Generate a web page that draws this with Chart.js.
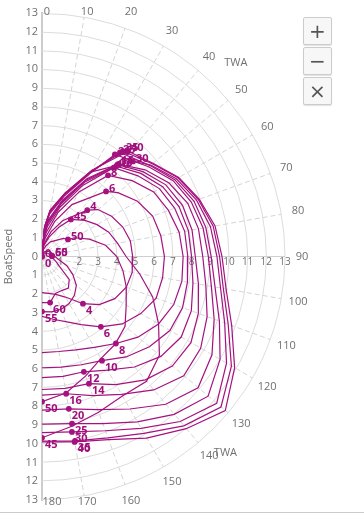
<!DOCTYPE html>
<html>
<head>
<meta charset="utf-8">
<script src="https://cdn.jsdelivr.net/npm/chart.js@4.4.1/dist/chart.umd.min.js"></script>
<style>
  html, body { margin: 0; padding: 0; background: #fff; }
  #wrap { position: relative; width: 364px; height: 512px; border-bottom: 1px solid #ccc; }
  #polar { display: block; }
  .zoomBtns { position: absolute; left: 303px; top: 17px; }
  .zoomBtns button {
    display: block; width: 29px; height: 28px; margin: 0 0 2px 0; padding: 0;
    border: 1px solid #ccc; border-radius: 2px; background: #f7f7f7; color: #555;
    font: 20px "DejaVu Sans", sans-serif; line-height: 24px;
    box-shadow: 0 1px 1px rgba(0,0,0,0.12);
  }
</style>
</head>
<body>
<div id="wrap">
  <canvas id="polar" width="364" height="512"></canvas>
  <div class="zoomBtns"><button>+</button><button>−</button><button>×</button></div>
</div>
<script>
// angles (TWA) where the polar has readings
const twa = [0, 5, 10, 20, 30, 50, 60, 70, 80, 90, 100, 110, 120, 130, 140, 150, 160, 170, 180];
// wind speeds (one curve each)
const tws = [0, 4, 6, 8, 10, 12, 14, 16, 20, 25, 30, 35, 40, 45, 50, 55, 60];

// boat speed per TWA, null = no reading there
const bsp0  = [0, 0, 0, 0, 0, 0, 0, 0, 0, 0, 0, 0, 0, 0, 0, 0, 0, 0, 0];
const bsp4  = [0, 0.4, 0.7, 1.4, 2.2, 3.9, 4.3, 4.6, 4.8, 4.85, 4.9, 4.8, 4.5, 4.0, null, 2.5, 2.15, 2.0, 1.93];
const bsp6  = [0, 0.6, 1.0, 2.0, 3.2, 5.3, 5.9, 6.3, 6.45, 6.55, 6.55, 6.5, 6.1, 5.6, null, 4.2, 3.7, 3.4, 3.2];
const bsp8  = [0, 0.8, 1.3, 2.5, 4.0, 6.3, 6.9, 7.2, 7.45, 7.55, 7.6, 7.5, 7.2, 6.7, null, 5.6, 5.3, 5.15, 5.13];
const bsp10 = [0, 1.0, 1.6, 2.8, 4.4, 6.7, 7.25, 7.55, 7.75, 7.8, 7.9, 8.0, 7.9, 7.5, 7.0, null, 6.15, 6.0, 5.94];
const bsp12 = [0, 1.1, 1.8, 3.0, 4.6, 6.9, 7.45, 7.8, 7.95, 8.0, 8.2, 8.5, 8.6, 8.3, 7.7, 7.0, null, 6.5, 6.47];
const bsp14 = [0, 1.2, 1.9, 3.1, 4.7, 7.05, 7.65, 8.0, 8.15, 8.2, 8.5, 8.9, 9.2, 9.1, 8.6, 7.9, null, 7.15, 7.1];
const bsp16 = [0, 1.3, 2.0, 3.2, 4.8, 7.2, 7.85, 8.3, 8.5, 8.6, 8.9, 9.4, 9.8, 9.9, 9.3, 8.5, 7.9, null, 7.4];
const bsp20 = [0, 1.5, 2.3, 3.4, 5.1, 7.45, 8.1, 8.5, 8.75, 8.9, 9.2, 9.8, 10.5, 10.9, 10.3, 9.4, 8.7, null, 8.2];
const bsp25 = [0, 1.5, 2.4, 3.5, 5.2, 7.55, 8.2, 8.65, 8.9, 9.05, 9.4, 10.1, 11.0, 11.6, 11.0, 10.2, 9.5, null, 8.95];
const bsp30 = [0, 1.6, 2.4, 3.5, 5.2, 7.6, 8.3, 8.8, 9.15, 9.36, 9.7, 10.4, 11.4, 12.2, 11.5, 10.6, 9.9, null, 9.4];
const bsp35 = [0, 1.6, 2.5, 3.6, 5.25, 7.7, 8.4, 8.9, 9.3, 9.5, 9.85, 10.6, 11.7, 12.5, 11.8, 10.9, 10.3, null, 9.85];
const bsp40 = [0, 1.6, 2.5, 3.6, 5.3, 7.75, 8.45, 8.95, 9.4, 9.63, 10.0, 10.8, 11.9, 12.8, 12.0, 11.2, 10.4, null, 9.9];
const bsp45 = [0, 0.3, 0.6, 1.1, 1.8, 3.0, 3.4, 3.8, 4.1, 4.5, 5.3, 6.3, 7.2, 8.2, 8.7, 8.6, 8.85, 9.2, null];
const bsp50 = [0, 0.2, 0.35, 0.6, 0.9, 1.5, 2.0, 2.7, 3.45, 4.0, 4.4, 4.8, 5.2, 5.8, 6.1, 6.3, 6.8, 7.4, null];
const bsp55 = [0, 0.05, 0.1, 0.2, 0.3, 0.45, 0.5, 0.55, 0.6, 0.7, 0.9, 1.4, 1.9, 2.4, 2.7, 2.9, 3.0, 3.0, null];
const bsp60 = [0, 0.03, 0.05, 0.1, 0.2, 0.3, 0.35, 0.4, 0.45, null, 0.6, 0.8, 1.1, 1.9, 2.2, 2.1, 2.1, null, 2.46];
const bspAll = [bsp0, bsp4, bsp6, bsp8, bsp10, bsp12, bsp14, bsp16, bsp20, bsp25, bsp30, bsp35, bsp40, bsp45, bsp50, bsp55, bsp60];

// optimal upwind (beat) and downwind (run) points
const beatAngle = [40, 44.4, 44.6, 39.2, 39, 39.5, 39.5, 39.6, 35.6, 36.9, 43.8, 37.6, 39.3, 38, 56.8, 86, 88];
const beatSpeed = [0, 3.46, 4.88, 5.59, 6.1, 6.25, 6.35, 6.4, 6.7, 6.95, 7.03, 7.1, 7.26, 2.51, 1.66, 0.55, 0.53];
const runAngle  = [150, 139, 140, 139.6, 150, 160, 159.7, 170, 170, 169.8, 170.3, 169.8, 170, 180, 180, 180, 170];
const runSpeed  = [0, 3.34, 4.9, 6.1, 6.42, 6.55, 7.24, 7.44, 8.26, 9.07, 9.5, 10.0, 10.05, 9.68, 7.75, 2.94, 2.5];

const twaTicks = [0, 10, 20, 30, 40, 50, 60, 70, 80, 90, 100, 110, 120, 130, 140, 150, 160, 170, 180];
const speedTicks = [1, 2, 3, 4, 5, 6, 7, 8, 9, 10, 11, 12, 13];

const lineColor = '#a5127f';
const grey = '#707070';
const deg = Math.PI / 180;

const toXY = (a, v, mark) => ({ x: v * Math.sin(a * deg), y: v * Math.cos(a * deg), mark: mark });

const datasets = tws.map((w, i) => {
    let pts = [];
    twa.forEach((a, k) => {
        const v = bspAll[i][k];
        if (v === null) return;
        if (Math.abs(a - beatAngle[i]) < 2 || Math.abs(a - runAngle[i]) < 2) return;
        pts.push({ a: a, v: v, mark: null });
    });
    pts.push({ a: beatAngle[i], v: beatSpeed[i], mark: 'beat' });
    pts.push({ a: runAngle[i], v: runSpeed[i], mark: 'run' });
    pts.sort((p, q) => p.a - q.a);
    return {
        label: String(w),
        data: pts.map(p => toXY(p.a, p.v, p.mark)),
        showLine: true,
        borderColor: lineColor,
        backgroundColor: lineColor,
        borderWidth: 1.2,
        tension: 0,
        pointRadius: ctx => (ctx.raw && ctx.raw.mark) ? 2.3 : 0,
        pointHoverRadius: 0
    };
});

// half polar grid drawn on the cartesian scales
const polarGrid = {
    id: 'polarGrid',
    beforeDatasetsDraw(chart) {
        const { ctx, scales: { x, y } } = chart;
        const cx = x.getPixelForValue(0), cy = y.getPixelForValue(0);
        const u = x.getPixelForValue(1) - cx;
        const R = 13 * u;
        ctx.save();
        ctx.strokeStyle = '#dcdcdc';
        ctx.lineWidth = 1;
        speedTicks.forEach(r => {
            ctx.beginPath();
            ctx.arc(cx, cy, r * u, -Math.PI / 2, Math.PI / 2);
            ctx.stroke();
        });
        twaTicks.forEach(a => {
            if (a === 0 || a === 180) return;
            ctx.setLineDash(a === 90 ? [] : [5, 3]);
            ctx.strokeStyle = a === 90 ? '#cfcfcf' : '#d4d4d4';
            ctx.beginPath();
            ctx.moveTo(cx, cy);
            ctx.lineTo(cx + R * Math.sin(a * deg), cy - R * Math.cos(a * deg));
            ctx.stroke();
        });
        ctx.setLineDash([]);

        ctx.fillStyle = grey;
        ctx.textBaseline = 'middle';
        ctx.textAlign = 'center';
        ctx.font = '10px "Open Sans"';
        speedTicks.forEach(r => ctx.fillText(String(r), cx + r * u, cy + 6));

        ctx.font = '11px "Open Sans"';
        const top = chart.chartArea.top - 1, bottom = chart.chartArea.bottom + 2;
        twaTicks.forEach(a => {
            let lx = cx + (R + 17) * Math.sin(a * deg);
            let ly = cy - (R + 17) * Math.cos(a * deg);
            ly = Math.min(Math.max(ly, top), bottom);
            if (a === 0) lx += 5;
            if (a === 180) lx += 10;
            ctx.fillText(String(a), lx, ly);
        });
        ctx.fillText('TWA', cx + (R + 31) * Math.sin(45 * deg), cy - (R + 31) * Math.cos(45 * deg));
        ctx.fillText('TWA', cx + (R + 26) * Math.sin(137 * deg), cy - (R + 26) * Math.cos(137 * deg));
        ctx.restore();
    }
};

// wind speed labels next to beat / run points
const pointLabels = {
    id: 'pointLabels',
    afterDatasetsDraw(chart) {
        const { ctx } = chart;
        ctx.save();
        ctx.fillStyle = '#a0107c';
        ctx.font = 'bold 11px "Open Sans"';
        ctx.textAlign = 'left';
        ctx.textBaseline = 'middle';
        chart.data.datasets.forEach((ds, i) => {
            const meta = chart.getDatasetMeta(i);
            ds.data.forEach((p, k) => {
                if (!p.mark) return;
                const el = meta.data[k];
                const dy = p.mark === 'beat' ? -3 : 7;
                ctx.fillText(ds.label, el.x + 3, el.y + dy);
            });
        });
        ctx.restore();
    }
};

const ctx = document.getElementById('polar').getContext('2d');
new Chart(ctx, {
    type: 'scatter',
    data: { datasets: datasets },
    options: {
        responsive: false,
        animation: false,
        layout: { padding: { top: 13, right: 79, bottom: 12, left: 0 } },
        plugins: { legend: { display: false }, tooltip: { enabled: false } },
        scales: {
            x: { type: 'linear', min: 0, max: 13, display: false },
            y: {
                type: 'linear', min: -13, max: 13,
                afterFit: s => { s.width = 42; },
                grid: { display: false, drawTicks: false },
                border: { display: true, color: '#cccccc', width: 2 },
                ticks: {
                    stepSize: 1, autoSkip: false, padding: 4, color: grey,
                    font: { family: 'Open Sans', size: 11 },
                    callback: v => Math.abs(v)
                },
                title: {
                    display: true, text: 'BoatSpeed', color: grey,
                    font: { family: 'Open Sans', size: 11 },
                    padding: { top: 2, bottom: 0 }
                }
            }
        }
    },
    plugins: [polarGrid, pointLabels]
});
</script>
</body>
</html>
